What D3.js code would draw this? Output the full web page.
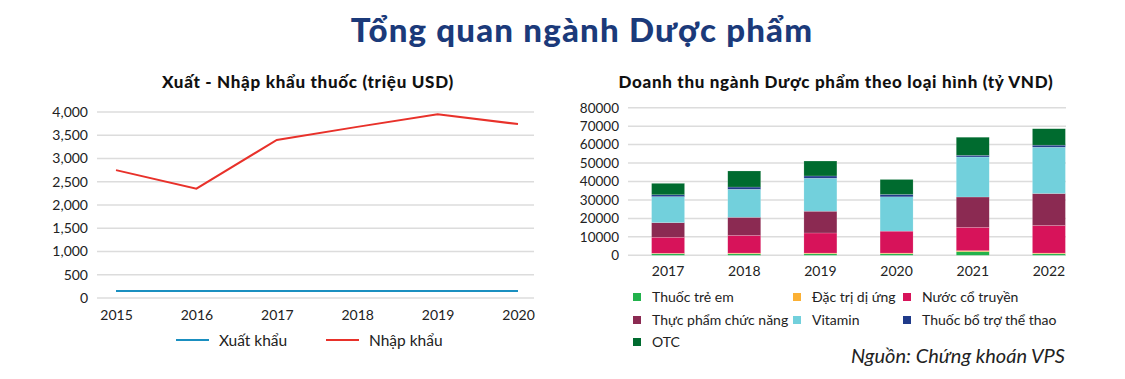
<!DOCTYPE html>
<html><head><meta charset="utf-8">
<script src="https://cdn.jsdelivr.net/npm/d3@7"></script>
<style>
body{margin:0;background:#fff;}
svg{display:block;font-family:Lato, "Noto Sans", sans-serif;}
</style></head>
<body><svg id="c" width="1125" height="379"></svg>
<script>
// ---- Data ----
const mainTitle = "Tổng quan ngành Dược phẩm";
const leftTitle = "Xuất - Nhập khẩu thuốc (triệu USD)";
const rightTitle = "Doanh thu ngành Dược phẩm theo loại hình (tỷ VND)";
const sourceText = "Nguồn: Chứng khoán VPS";

const tradeYears = ["2015","2016","2017","2018","2019","2020"];
const exportVals = [150,150,150,150,150,150];
const importVals = [2750,2350,3400,3680,3950,3740];
const tradeTicks = [0,500,1000,1500,2000,2500,3000,3500,4000];
const tradeSeriesNames = ["Xuất khẩu","Nhập khẩu"];

const revYears = ["2017","2018","2019","2020","2021","2022"];
const revSeries = ["Thuốc trẻ em","Đặc trị dị ứng","Nước cổ truyền","Thực phẩm chức năng","Vitamin","Thuốc bổ trợ thể thao","OTC"];
const thuocTreEm   = [800, 800, 800, 800, 2000, 800];
const dacTriDiUng  = [300, 400, 400, 400, 500, 400];
const nuocCoTruyen = [8700, 9600, 10900, 11900, 12700, 15000];
const thucPhamCN   = [7900, 9800, 11800, 0, 16400, 17300];
const vitamin      = [14100, 15200, 17900, 18600, 21700, 25100];
const thuocBoTro   = [1000, 1200, 1200, 1300, 900, 1100];
const otc          = [6200, 8700, 8100, 8100, 9800, 8900];
const revTicks = [0,10000,20000,30000,40000,50000,60000,70000,80000];

const revColors = ["#22b24c","#fbb034","#d7135a","#8b2a52","#72d0dc","#1f3a8a","#006b2f"];
const tradeColors = ["#1a8fc0","#e8312a"];

// ---- Drawing ----
const svg = d3.select("#c");
const grid = "#dcdcdc";

svg.append("text").attr("x",582).attr("y",42).attr("text-anchor","middle")
  .attr("font-size",33).attr("letter-spacing",1.2).attr("font-weight",900).attr("fill","#1b3a7a").text(mainTitle);

// Left chart
{
  const x = d3.scalePoint().domain(tradeYears).range([116,518]);
  const y = d3.scaleLinear().domain([0,4000]).range([298,112]);
  const g = svg.append("g");
  g.append("text").attr("x",308).attr("y",88).attr("text-anchor","middle")
    .attr("font-size",17).attr("letter-spacing",0.7).attr("font-weight",900).attr("fill","#111").text(leftTitle);
  g.selectAll("line.grid").data(tradeTicks).join("line")
    .attr("x1",97).attr("x2",534).attr("y1",d=>y(d)).attr("y2",d=>y(d))
    .attr("stroke",grid).attr("stroke-width",1.5);
  const ya = d3.axisLeft(y).tickValues(tradeTicks).tickFormat(d3.format(",")).tickSize(0).tickPadding(0);
  g.append("g").attr("transform","translate(88,0)").call(ya)
    .call(s=>s.select(".domain").remove())
    .selectAll("text").attr("font-size",14).attr("fill","#222").attr("font-family","Lato, sans-serif");
  const xa = d3.axisBottom(x).tickSize(0).tickPadding(0);
  g.append("g").attr("transform","translate(0,307)").call(xa)
    .call(s=>s.select(".domain").remove())
    .selectAll("text").attr("font-size",14).attr("fill","#222").attr("dy","0.9em").attr("font-family","Lato, sans-serif");
  const line = d3.line().x((d,i)=>x(tradeYears[i])).y(d=>y(d));
  [exportVals, importVals].forEach((vals,k)=>{
    g.append("path").attr("d",line(vals)).attr("fill","none")
      .attr("stroke",tradeColors[k]).attr("stroke-width",2);
  });
  const lx = [176,326];
  tradeSeriesNames.forEach((n,k)=>{
    g.append("line").attr("x1",lx[k]).attr("x2",lx[k]+33).attr("y1",340).attr("y2",340)
      .attr("stroke",tradeColors[k]).attr("stroke-width",2);
    g.append("text").attr("x",lx[k]+43).attr("y",345.5).attr("font-size",15.5).attr("fill","#222").text(n);
  });
}

// Right chart
{
  const x = d3.scaleBand().domain(revYears).range([630,1087]).paddingInner(0.567).paddingOuter(0.2835);
  const y = d3.scaleLinear().domain([0,80000]).range([255.3,107.7]);
  const g = svg.append("g");
  g.append("text").attr("x",836).attr("y",88).attr("text-anchor","middle")
    .attr("font-size",17).attr("letter-spacing",0.68).attr("font-weight",900).attr("fill","#111").text(rightTitle);
  g.selectAll("line.grid").data(revTicks).join("line")
    .attr("x1",628).attr("x2",1066).attr("y1",d=>y(d)).attr("y2",d=>y(d))
    .attr("stroke",grid).attr("stroke-width",1.5);
  const ya = d3.axisLeft(y).tickValues(revTicks).tickFormat(d3.format("d")).tickSize(0).tickPadding(0);
  g.append("g").attr("transform","translate(619,0)").call(ya)
    .call(s=>s.select(".domain").remove())
    .selectAll("text").attr("font-size",13.5).attr("fill","#222").attr("font-family","Lato, sans-serif");
  const xa = d3.axisBottom(x).tickSize(0).tickPadding(0);
  g.append("g").attr("transform","translate(0,263)").call(xa)
    .call(s=>s.select(".domain").remove())
    .selectAll("text").attr("font-size",14).attr("fill","#222").attr("dy","0.9em").attr("font-family","Lato, sans-serif");
  const seriesVals = [thuocTreEm,dacTriDiUng,nuocCoTruyen,thucPhamCN,vitamin,thuocBoTro,otc];
  const table = revYears.map((yr,i)=>{
    const o = {year:yr};
    revSeries.forEach((s,k)=>o[s]=seriesVals[k][i]);
    return o;
  });
  const stack = d3.stack().keys(revSeries)(table);
  g.selectAll("g.layer").data(stack).join("g").attr("fill",(d,k)=>revColors[k])
    .selectAll("rect").data(d=>d).join("rect")
    .attr("x",d=>x(d.data.year)).attr("width",x.bandwidth())
    .attr("y",d=>y(d[1])).attr("height",d=>Math.max(0,y(d[0])-y(d[1])))
    .attr("stroke","rgba(255,255,255,0.35)").attr("stroke-width",0.5);
  const cols = [637,797,907], rows = [297,320,342];
  revSeries.forEach((n,k)=>{
    const cx = cols[k%3], cy = rows[Math.floor(k/3)];
    g.append("rect").attr("x",cx-4).attr("y",cy-4).attr("width",8).attr("height",8).attr("fill",revColors[k]);
    g.append("text").attr("x",cx+15).attr("y",cy+5).attr("font-size",14).attr("fill","#222").text(n);
  });
  g.append("text").attr("x",1065).attr("y",363).attr("text-anchor","end")
    .attr("font-size",20).attr("font-style","italic").attr("fill","#222").text(sourceText);
}
</script></body></html>
